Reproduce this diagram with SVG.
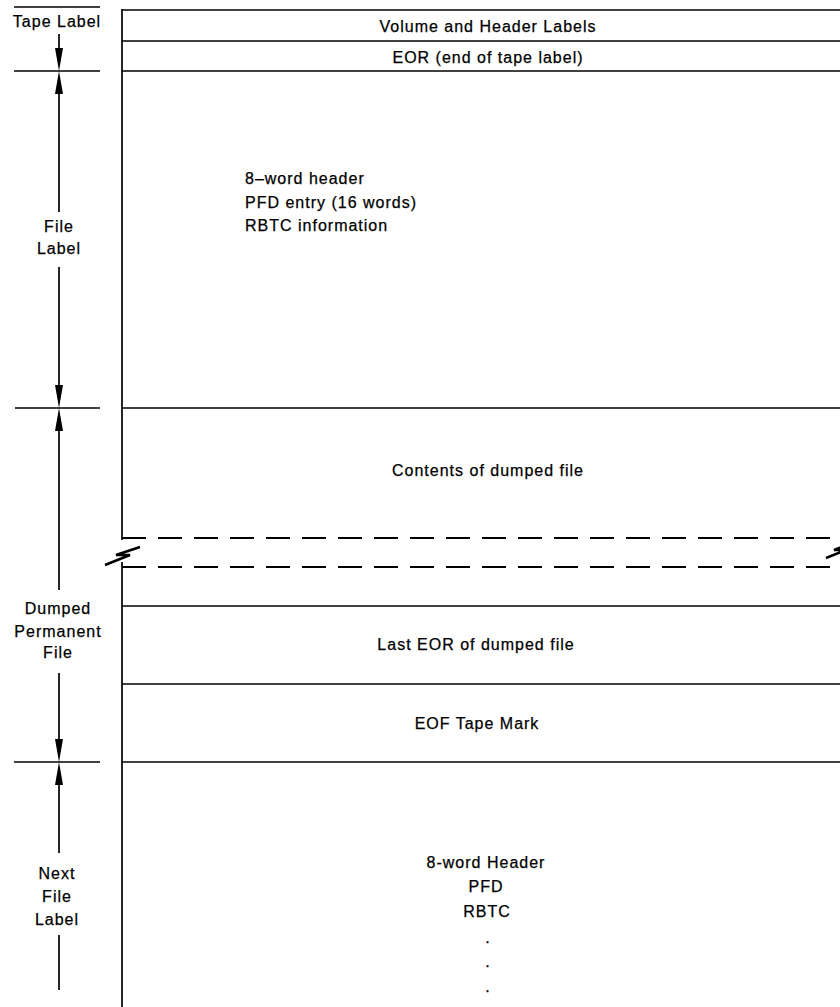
<svg xmlns="http://www.w3.org/2000/svg" width="840" height="1007" viewBox="0 0 840 1007">
<style>
  .ln{stroke:#000;stroke-width:1.7;fill:none}
  .dash{stroke:#000;stroke-width:2;fill:none;stroke-dasharray:24 12}
  .brk{stroke:#000;stroke-width:2.6;fill:none;stroke-linejoin:miter}
  .t{font-family:"Liberation Sans",Arial,Helvetica,sans-serif;font-size:16px;letter-spacing:1px;fill:#000;stroke:#000;stroke-width:0.25}
  .c{text-anchor:middle}
  .ah{fill:#000}
</style>
<rect width="840" height="1007" fill="#fff"/>
<g id="connectors">
  <line class="ln" x1="14" y1="7" x2="100" y2="7"/>
  <line class="ln" x1="14" y1="71" x2="100" y2="71"/>
  <line class="ln" x1="15" y1="408" x2="100" y2="408"/>
  <line class="ln" x1="14" y1="762" x2="100" y2="762"/>
  <line class="ln" x1="59" y1="34" x2="59" y2="60"/>
  <path class="ah" d="M55,48 L63,48 L59,71 Z"/>
  <line class="ln" x1="59" y1="85" x2="59" y2="212"/>
  <path class="ah" d="M55,94 L63,94 L59,71 Z"/>
  <line class="ln" x1="59" y1="267" x2="59" y2="395"/>
  <path class="ah" d="M55,385 L63,385 L59,408 Z"/>
  <line class="ln" x1="59" y1="420" x2="59" y2="590"/>
  <path class="ah" d="M55,431 L63,431 L59,408 Z"/>
  <line class="ln" x1="59" y1="673" x2="59" y2="750"/>
  <path class="ah" d="M55,739 L63,739 L59,762 Z"/>
  <line class="ln" x1="59" y1="775" x2="59" y2="853"/>
  <path class="ah" d="M55,785 L63,785 L59,762 Z"/>
  <line class="ln" x1="59" y1="935" x2="59" y2="990"/>
</g>
<g id="frame">
  <line class="ln" x1="122" y1="9" x2="122" y2="540"/>
  <line class="ln" x1="122" y1="562" x2="122" y2="1007"/>
  <line class="ln" x1="122" y1="10" x2="840" y2="10"/>
  <line class="ln" x1="122" y1="41" x2="840" y2="41"/>
  <line class="ln" x1="122" y1="71" x2="840" y2="71"/>
  <line class="ln" x1="122" y1="408" x2="840" y2="408"/>
  <line class="dash" x1="122" y1="538" x2="840" y2="538"/>
  <line class="dash" x1="122" y1="567" x2="840" y2="567"/>
  <line class="ln" x1="122" y1="606" x2="840" y2="606"/>
  <line class="ln" x1="122" y1="684" x2="840" y2="684"/>
  <line class="ln" x1="122" y1="762" x2="840" y2="762"/>
  <path class="brk" d="M105,565 L130,555 L116,555 L140,547"/>
  <path class="brk" d="M826,558 L846,550 L834,550 L850,544"/>
</g>
<g id="tape-label">
  <text class="t c" x="57" y="27">Tape Label</text>
</g>
<g id="volume-header">
  <text class="t c" x="488" y="32">Volume and Header Labels</text>
</g>
<g id="eor-tape">
  <text class="t c" x="488" y="63">EOR (end of tape label)</text>
</g>
<g id="file-label">
  <text class="t c" x="59" y="232">File</text>
  <text class="t c" x="59" y="254">Label</text>
</g>
<g id="file-label-contents">
  <text class="t" x="245" y="184">8–word header</text>
  <text class="t" x="245" y="208">PFD entry (16 words)</text>
  <text class="t" x="245" y="231">RBTC information</text>
</g>
<g id="contents">
  <text class="t c" x="488" y="476">Contents of dumped file</text>
</g>
<g id="dumped-label">
  <text class="t c" x="58" y="614">Dumped</text>
  <text class="t c" x="58" y="637">Permanent</text>
  <text class="t c" x="58" y="658">File</text>
</g>
<g id="last-eor">
  <text class="t c" x="476" y="650">Last EOR of dumped file</text>
</g>
<g id="eof">
  <text class="t c" x="477" y="729">EOF Tape Mark</text>
</g>
<g id="next-label">
  <text class="t c" x="57" y="879">Next</text>
  <text class="t c" x="57" y="902">File</text>
  <text class="t c" x="57" y="925">Label</text>
</g>
<g id="next-contents">
  <text class="t c" x="486" y="868">8-word Header</text>
  <text class="t c" x="486" y="892">PFD</text>
  <text class="t c" x="487" y="917">RBTC</text>
  <text class="t c" x="488" y="943">.</text>
  <text class="t c" x="488" y="967">.</text>
  <text class="t c" x="488" y="992">.</text>
</g>
</svg>
